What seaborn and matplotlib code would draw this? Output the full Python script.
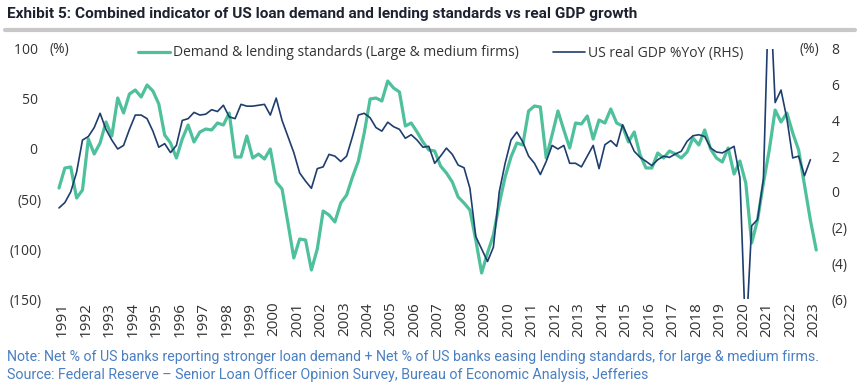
import numpy as np
import pandas as pd
import matplotlib
matplotlib.use("Agg")
import matplotlib.pyplot as plt
from matplotlib.lines import Line2D
import seaborn as sns

# quarterly data, first point = 1991 Q1
start_year = 1991

# net % stronger demand + net % easing standards (large & medium firms), 1991Q1-2023Q2
loan_index = [
    -39, -19, -18, -49,   # 1991
    -41, 10, -5, 6,       # 1992
    27, 13, 51, 36,       # 1993
    55, 59, 52, 64,       # 1994
    58, 45, 14, 6,        # 1995
    -9, 10, 24, 7,        # 1996
    17, 20, 19, 26,       # 1997
    24, 36, -8, -8,       # 1998
    13, -9, -5, -10,      # 1999
    0, -33, -40, -74,     # 2000
    -109, -90, -91, -121, # 2001
    -100, -62, -66, -73,  # 2002
    -54, -46, -28, -12,   # 2003
    16, 50, 51, 48,       # 2004
    68, 61, 57, 23,       # 2005
    26, 17, 7, -1,        # 2006
    -2, -17, -24, -33,    # 2007
    -48, -54, -61, -91,   # 2008
    -124, -104, -86, -55, # 2009
    -28, -8, 6, 4,        # 2010
    38, 43, 42, -9,       # 2011
    14, 38, 19, 1,        # 2012
    26, 25, 33, 10,       # 2013
    29, 26, 40, 26,       # 2014
    23, 7, 17, -6,        # 2015
    -19, -19, -4, -9,     # 2016
    -2, -5, -9, -3,       # 2017
    11, 4, 19, 0,         # 2018
    -9, -13, 1, -25,      # 2019
    -12, -34, -94, -71,   # 2020
    -34, -1, 39, 27,      # 2021
    36, 16, -1, -36,      # 2022
    -71, -101,            # 2023
]

# US real GDP % YoY, 1991Q1-2023Q1
gdp_yoy = [
    -0.9, -0.6, 0.0, 1.1,
    2.9, 3.1, 3.6, 4.4,
    3.5, 2.9, 2.4, 2.6,
    3.5, 4.3, 4.3, 4.1,
    3.4, 2.5, 2.7, 2.2,
    2.6, 4.0, 4.1, 4.45,
    4.3, 4.35, 4.6, 4.5,
    4.85, 4.2, 4.1, 4.9,
    4.8, 4.8, 4.85, 4.9,
    4.3, 5.25, 4.0, 3.1,
    2.2, 1.06, 0.6, 0.2,
    1.3, 1.4, 2.1, 2.0,
    1.7, 2.0, 3.1, 4.3,
    4.4, 4.15, 3.6, 3.4,
    3.9, 3.65, 3.5, 3.0,
    3.2, 2.9, 2.5, 2.55,
    1.6, 2.0, 2.45, 2.1,
    1.5, 1.35, 0.2, -2.5,
    -3.2, -3.9, -3.1, 0.0,
    1.6, 2.9, 3.35, 2.8,
    2.0, 1.6, 0.97, 1.7,
    2.6, 2.4, 2.6, 1.6,
    1.6, 1.4, 2.0, 2.6,
    1.3, 2.64, 2.87, 2.55,
    3.76, 3.0, 2.27, 1.93,
    1.71, 1.47, 1.8, 2.0,
    1.93, 2.12, 2.27, 2.83,
    3.14, 3.2, 3.1, 2.46,
    2.23, 2.18, 2.36, 2.55,
    0.8, -8.4, -1.9, -1.55,
    0.7, 12.2, 5.0, 5.7,
    4.1, 1.9, 2.0, 0.9,
    1.8,
]

years = list(range(1991, 2024))
left_ticks = [-150, -100, -50, 0, 50, 100]
right_ticks = [-6, -4, -2, 0, 2, 4, 6, 8]

loan_label = "Demand & lending standards (Large & medium firms)"
gdp_label = "US real GDP %YoY (RHS)"
title = ("Exhibit 5: Combined indicator of US loan demand and lending "
         "standards vs real GDP growth")
note = ("Note: Net % of US banks reporting stronger loan demand + Net % of US "
        "banks easing lending standards, for large & medium firms.")
source = ("Source: Federal Reserve \u2013 Senior Loan Officer Opinion Survey, "
          "Bureau of Economic Analysis, Jefferies")

green = "#4fc09c"
navy = "#1f3d6e"
text_col = "#333333"
note_col = "#4a7fc1"


def paren(v):
    # excel style: negatives in brackets, positives padded
    return f"({abs(v)})" if v < 0 else f"{v} "


sns.set_style("white")
plt.rcParams["font.family"] = ["Open Sans", "DejaVu Sans"]

W, H = 859, 392
fig = plt.figure(figsize=(W / 100, H / 100), dpi=100)
ax = fig.add_axes([50 / W, 1 - 299 / H, 775 / W, 250 / H])
ax2 = ax.twinx()

loan = pd.DataFrame({"t": start_year + np.arange(len(loan_index)) / 4,
                     "v": loan_index})
gdp = pd.DataFrame({"t": start_year + np.arange(len(gdp_yoy)) / 4,
                    "v": gdp_yoy})

sns.lineplot(data=loan, x="t", y="v", ax=ax, color=green, lw=2.3, legend=False)
sns.lineplot(data=gdp, x="t", y="v", ax=ax2, color=navy, lw=1.2, legend=False)

ax.set_xlim(1991 - 9 / 23.48, 1991 + 766 / 23.48)
ax.set_ylim(-150, 100)
ax2.set_ylim(-6, 8)

ax.set_xticks([y + 0.15 for y in years])
ax.set_xticklabels([str(y) for y in years], rotation=90)
ax.set_yticks(left_ticks)
ax.set_yticklabels([paren(v) for v in left_ticks])
ax2.set_yticks(right_ticks)
ax2.set_yticklabels([paren(v) for v in right_ticks])

ax.tick_params(axis="x", length=0, pad=2, labelsize=11, colors=text_col)
ax.tick_params(axis="y", length=0, pad=6, labelsize=10, colors=text_col)
ax2.tick_params(axis="y", length=0, pad=5, labelsize=10, colors=text_col)
ax.set_xlabel("")
ax.set_ylabel("")
ax2.set_ylabel("")
for a in (ax, ax2):
    for s in a.spines.values():
        s.set_visible(False)
    a.grid(False)

fig.text(49 / W, 1 - 49 / H, "(%)", fontsize=10, color=text_col, va="center")
fig.text(819 / W, 1 - 49 / H, "(%)", fontsize=10, color=text_col,
         va="center", ha="right")

handles = [Line2D([], [], color=green, lw=2.3), Line2D([], [], color=navy, lw=1.2)]
fig.legend(handles, [loan_label, gdp_label], loc="center left",
           bbox_to_anchor=(138 / W, 1 - 53 / H), ncol=2, frameon=False,
           fontsize=10, handlelength=2.3, handletextpad=0.2,
           columnspacing=2.5, borderpad=0, borderaxespad=0,
           labelcolor=text_col)

fig.text(7 / W, 1 - 14 / H, title, fontsize=11.1, fontweight="bold",
         family="Roboto", color="#1c2230", va="center")
fig.add_artist(Line2D([5 / W, 855 / W], [1 - 29.5 / H] * 2,
                      color="#c8c8c8", lw=3))

fig.text(7 / W, 1 - 357 / H, note, fontsize=10.15, family="Roboto",
         color=note_col, va="center")
fig.text(7 / W, 1 - 375 / H, source, fontsize=10.3, family="Roboto",
         color=note_col, va="center")

fig.savefig("out.png", dpi=100)
